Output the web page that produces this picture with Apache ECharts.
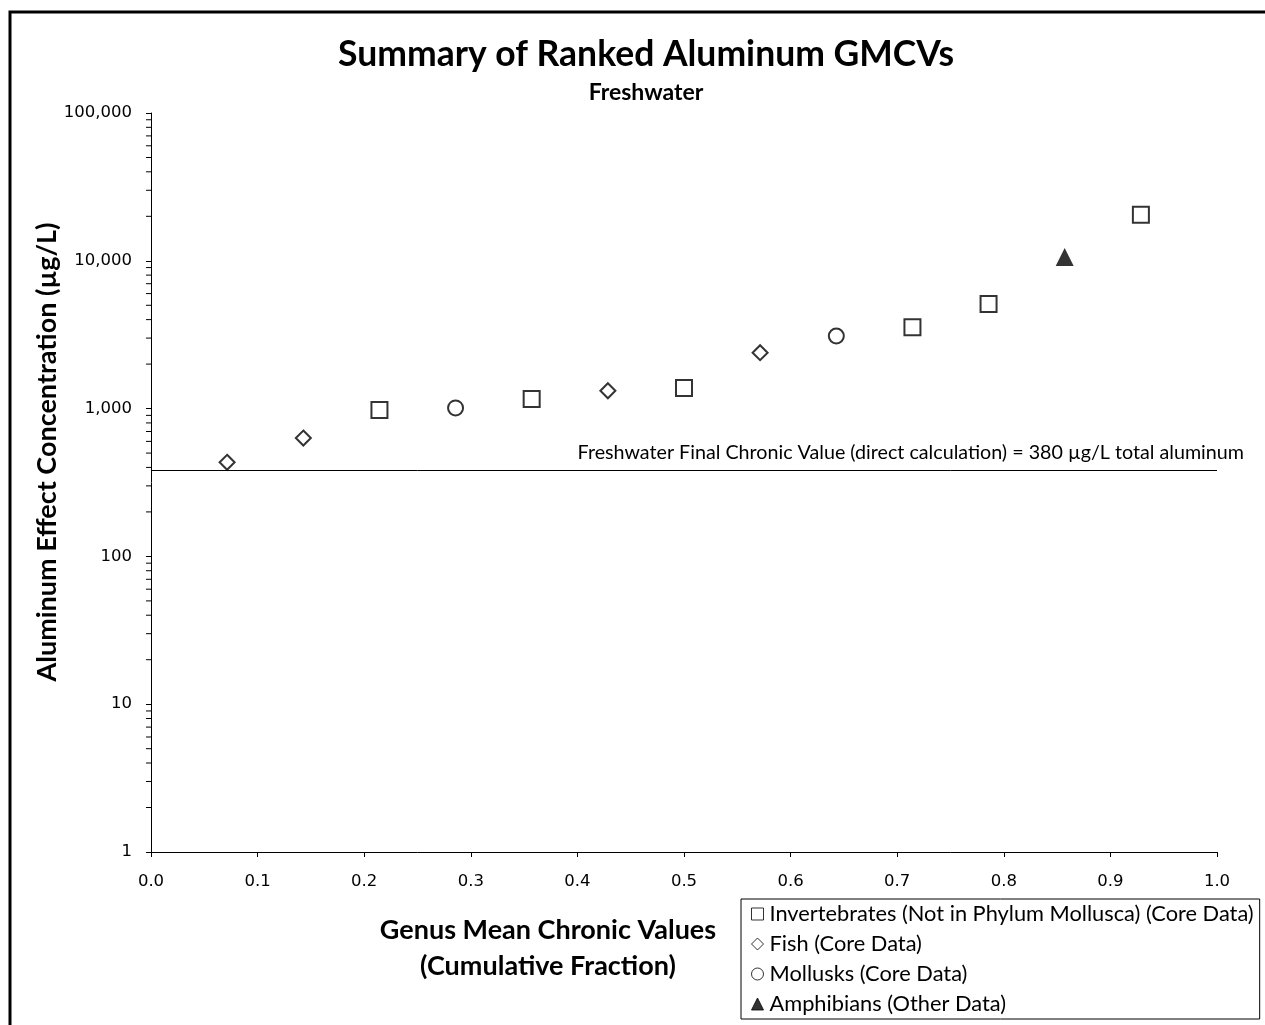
<!DOCTYPE html>
<html>
<head>
<meta charset="utf-8">
<script src="https://cdn.jsdelivr.net/npm/echarts@6/dist/echarts.min.js"></script>
<style>
html,body{margin:0;padding:0;background:#fff;}
#chart{width:1265px;height:1025px;}
</style>
</head>
<body>
<div id="chart"></div>
<script>
// ---- data ----
const invertX = [0.2143, 0.3571, 0.5000, 0.7143, 0.7857, 0.9286];
const invertY = [980, 1160, 1380, 3550, 5100, 20500];
const fishX = [0.0714, 0.1429, 0.4286, 0.5714];
const fishY = [433, 632, 1320, 2390];
const molluskX = [0.2857, 0.6429];
const molluskY = [1010, 3100];
const amphibX = [0.8571];
const amphibY = [10600];
const finalChronicValue = 380;
const xTicks = [0.0, 0.1, 0.2, 0.3, 0.4, 0.5, 0.6, 0.7, 0.8, 0.9, 1.0];
const yTicks = [1, 10, 100, 1000, 10000, 100000];
const minorMultipliers = [2, 3, 4, 5, 6, 7, 8, 9];
const seriesNames = [
  'Invertebrates (Not in Phylum Mollusca) (Core Data)',
  'Fish (Core Data)',
  'Mollusks (Core Data)',
  'Amphibians (Other Data)'
];

const zip = (xs, ys) => xs.map((x, i) => [x, ys[i]]);
const minorTicks = [];
yTicks.slice(0, -1).forEach(d => minorMultipliers.forEach(m => minorTicks.push([0, d * m])));

const SANS = 'Lato, "Open Sans", sans-serif';
const chart = echarts.init(document.getElementById('chart'));
chart.setOption({
  backgroundColor: '#fff',
  animation: false,
  title: {
    text: 'Summary of Ranked Aluminum GMCVs',
    subtext: 'Freshwater',
    left: 641, top: 32, textAlign: 'center',
    itemGap: 8,
    textStyle: {fontFamily: SANS, fontWeight: 'bold', fontSize: 35.5, color: '#000'},
    subtextStyle: {fontFamily: SANS, fontWeight: 'bold', fontSize: 23, color: '#000'}
  },
  grid: {left: 151, right: 48, top: 113, bottom: 173},
  xAxis: {
    type: 'value', min: 0, max: 1, interval: 0.1,
    axisLine: {show: true, lineStyle: {color: '#000', width: 1}},
    axisTick: {show: true, length: 5, lineStyle: {color: '#000'}},
    axisLabel: {
      margin: 21, color: '#000', fontFamily: 'DejaVu Sans', fontSize: 16.5,
      formatter: v => v.toFixed(1)
    },
    splitLine: {show: false}
  },
  yAxis: {
    type: 'log', logBase: 10, min: yTicks[0], max: yTicks[yTicks.length - 1],
    axisLine: {show: true, lineStyle: {color: '#000', width: 1}},
    axisTick: {show: true, length: 5, lineStyle: {color: '#000'}},
    axisLabel: {
      margin: 19, color: '#000', fontFamily: 'DejaVu Sans', fontSize: 16.5,
      formatter: v => Number(v).toLocaleString('en-US')
    },
    splitLine: {show: false}
  },
  legend: {
    orient: 'vertical',
    left: 741, top: 899,
    data: seriesNames,
    backgroundColor: '#fff',
    borderColor: '#000', borderWidth: 1,
    padding: [4, 6, 4, 10],
    itemGap: 8,
    itemWidth: 12, itemHeight: 12,
    itemStyle: {borderWidth: 1},
    textStyle: {fontFamily: SANS, fontSize: 21.8, color: '#000', lineHeight: 22, padding: [0, 0, 0, 1]}
  },
  graphic: [
    {type: 'rect', shape: {x: 10, y: 12, width: 1300, height: 1100},
     style: {fill: 'none', stroke: '#000', lineWidth: 3}, silent: true},
    {type: 'text', x: 47, y: 452, rotation: Math.PI / 2,
     style: {text: 'Aluminum Effect Concentration (µg/L)', fontFamily: SANS, fontWeight: 'bold',
             fontSize: 27, fill: '#000', align: 'center', verticalAlign: 'middle'}},
    {type: 'text', x: 548, y: 948,
     style: {text: 'Genus Mean Chronic Values\n(Cumulative Fraction)', fontFamily: SANS, fontWeight: 'bold',
             fontSize: 27, lineHeight: 36, fill: '#000', align: 'center', verticalAlign: 'middle'}}
  ],
  series: [
    {
      name: seriesNames[0], type: 'scatter', data: zip(invertX, invertY),
      symbol: 'rect', symbolSize: 16,
      itemStyle: {color: '#fff', borderColor: '#000', borderWidth: 2},
      markLine: {
        silent: true, symbol: 'none',
        lineStyle: {color: '#000', width: 1, type: 'solid'},
        label: {
          show: true, position: 'insideEndTop', distance: 8, offset: [35, 0],
          formatter: 'Freshwater Final Chronic Value (direct calculation) = ' + finalChronicValue + ' µg/L total aluminum',
          fontFamily: SANS, fontSize: 19.7, color: '#000'
        },
        data: [[{coord: [xTicks[0], finalChronicValue]}, {coord: [xTicks[xTicks.length - 1], finalChronicValue]}]]
      }
    },
    {
      name: seriesNames[1], type: 'scatter', data: zip(fishX, fishY),
      symbol: 'diamond', symbolSize: 15,
      itemStyle: {color: '#fff', borderColor: '#000', borderWidth: 2}
    },
    {
      name: seriesNames[2], type: 'scatter', data: zip(molluskX, molluskY),
      symbol: 'circle', symbolSize: 15,
      itemStyle: {color: '#fff', borderColor: '#000', borderWidth: 2}
    },
    {
      name: seriesNames[3], type: 'scatter', data: zip(amphibX, amphibY),
      symbol: 'triangle', symbolSize: 18,
      itemStyle: {color: '#000', borderColor: '#000', borderWidth: 0}
    },
    {
      name: 'minorTicks', type: 'custom', silent: true, data: minorTicks,
      renderItem: (params, api) => {
        const p = api.coord([api.value(0), api.value(1)]);
        return {type: 'line', shape: {x1: p[0] - 5, y1: p[1], x2: p[0], y2: p[1]},
                style: {stroke: '#000', lineWidth: 1}};
      }
    }
  ]
});
</script>
</body>
</html>
